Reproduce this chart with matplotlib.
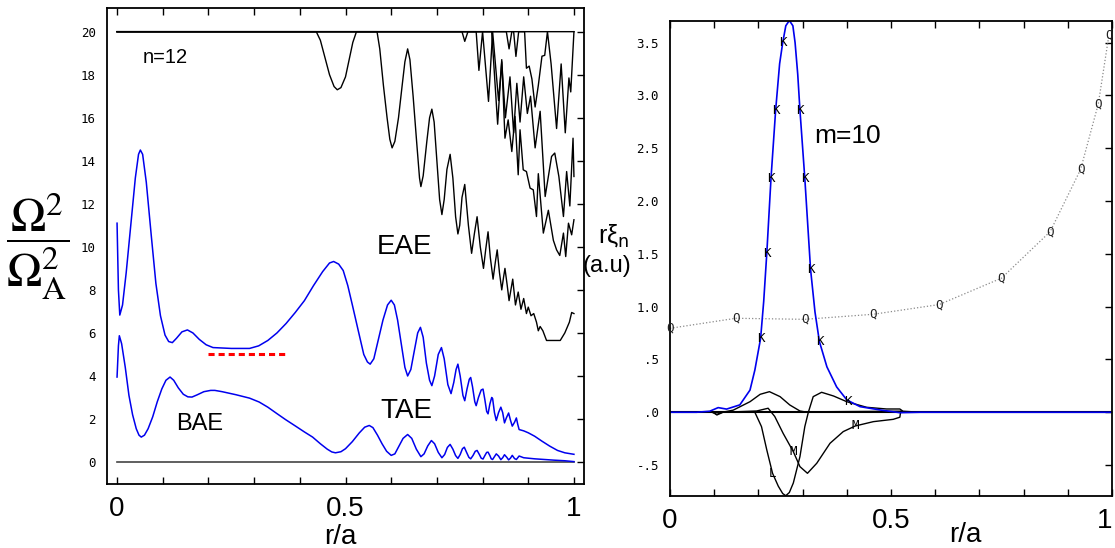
import numpy as np
import matplotlib
matplotlib.use("Agg")
import matplotlib.pyplot as plt

SANS = "Liberation Sans"
MONO = "DejaVu Sans Mono"

# ---- left panel: continuum (Omega^2 / Omega_A^2 versus r/a), n=12 ----
blue_upper_x = [0.0, 0.003, 0.006, 0.012, 0.02, 0.03, 0.04, 0.047, 0.051, 0.056, 0.064, 0.075,
                0.085, 0.095, 0.105, 0.113, 0.121, 0.13, 0.142, 0.154, 0.166, 0.18, 0.195, 0.21,
                0.25, 0.29, 0.31, 0.33, 0.35, 0.37, 0.39, 0.41, 0.43, 0.45, 0.465, 0.474, 0.485,
                0.495, 0.505, 0.515, 0.528, 0.54, 0.548, 0.554, 0.562, 0.572, 0.582, 0.592, 0.6,
                0.607, 0.614, 0.622, 0.63, 0.636, 0.643, 0.65, 0.658, 0.664, 0.67, 0.677, 0.684,
                0.689, 0.695, 0.703, 0.71, 0.716, 0.724, 0.731, 0.737, 0.742, 0.746, 0.751, 0.757,
                0.761, 0.766, 0.771, 0.774, 0.778, 0.783, 0.786, 0.791, 0.797, 0.801, 0.805, 0.809,
                0.812, 0.816, 0.82, 0.822, 0.826, 0.83, 0.835, 0.84, 0.844, 0.848, 0.852, 0.857,
                0.861, 0.865, 0.87, 0.874, 0.877, 0.88, 0.89, 0.9, 0.914, 0.93, 0.947, 0.964, 0.98, 1.0]
blue_upper_y = [11.1, 8.0, 6.83, 7.3, 8.8, 11.0, 13.2, 14.3, 14.5, 14.3, 13.0, 10.5,
                8.3, 6.8, 5.9, 5.6, 5.55, 5.75, 6.05, 6.14, 6.0, 5.7, 5.45, 5.32,
                5.28, 5.28, 5.4, 5.65, 6.0, 6.44, 6.95, 7.5, 8.2, 8.85, 9.25, 9.32, 9.2,
                8.9, 8.2, 7.3, 6.1, 5.0, 4.65, 4.55, 4.8, 5.7, 6.6, 7.3, 7.52,
                7.3, 6.6, 5.5, 4.4, 4.0, 4.3, 5.1, 6.0, 6.26, 5.8, 4.6, 3.8,
                3.55, 4.0, 5.0, 5.32, 4.8, 3.6, 3.18, 3.7, 4.3, 4.55, 4.0, 3.1,
                2.85, 3.4, 3.85, 3.93, 3.5, 2.8, 2.62, 3.0, 3.35, 3.39, 2.9, 2.35,
                2.24, 2.7, 3.0, 2.95, 2.3, 1.93, 2.3, 2.55, 2.3, 1.82, 2.05, 2.28,
                1.95, 1.67, 1.85, 2.05, 1.75, 1.51, 1.45, 1.36, 1.2, 0.97, 0.74, 0.54, 0.43, 0.36]

blue_lower_x = [0.0, 0.003, 0.005, 0.01, 0.018, 0.026, 0.034, 0.042, 0.048, 0.053, 0.06, 0.068,
                0.078, 0.088, 0.098, 0.107, 0.116, 0.124, 0.134, 0.145, 0.155, 0.164, 0.175, 0.19,
                0.205, 0.214, 0.23, 0.26, 0.29, 0.311, 0.33, 0.35, 0.369, 0.39, 0.41, 0.428, 0.445,
                0.46, 0.47, 0.478, 0.49, 0.5, 0.515, 0.53, 0.542, 0.552, 0.56, 0.57, 0.58, 0.59,
                0.6, 0.608, 0.616, 0.626, 0.636, 0.645, 0.655, 0.665, 0.672, 0.68, 0.688, 0.695,
                0.703, 0.711, 0.717, 0.723, 0.729, 0.735, 0.741, 0.746, 0.751, 0.756, 0.76, 0.765,
                0.77, 0.774, 0.779, 0.784, 0.788, 0.793, 0.797, 0.801, 0.805, 0.809, 0.812, 0.816,
                0.819, 0.822, 0.826, 0.83, 0.835, 0.84, 0.844, 0.848, 0.853, 0.857, 0.861, 0.865,
                0.87, 0.874, 0.88, 0.89, 0.914, 0.955, 0.98, 1.0]
blue_lower_y = [3.95, 5.4, 5.87, 5.5, 4.4, 3.1, 2.2, 1.55, 1.25, 1.16, 1.25, 1.55,
                2.1, 2.8, 3.4, 3.8, 3.95, 3.8, 3.45, 3.15, 3.03, 3.02, 3.12, 3.27,
                3.33, 3.33, 3.27, 3.13, 2.97, 2.79, 2.55, 2.25, 1.97, 1.68, 1.4, 1.16, 0.85,
                0.6, 0.47, 0.43, 0.48, 0.62, 0.95, 1.35, 1.62, 1.7, 1.6, 1.25, 0.85, 0.5,
                0.31, 0.38, 0.7, 1.1, 1.28, 1.1, 0.6, 0.25, 0.38, 0.75, 1.0, 0.85,
                0.45, 0.2, 0.35, 0.68, 0.82, 0.6, 0.3, 0.17, 0.35, 0.62, 0.69, 0.45,
                0.22, 0.15, 0.3, 0.5, 0.54, 0.35, 0.18, 0.14, 0.3, 0.45, 0.46, 0.3,
                0.15, 0.12, 0.25, 0.38, 0.28, 0.11, 0.2, 0.34, 0.22, 0.1, 0.18, 0.31,
                0.16, 0.12, 0.28, 0.2, 0.15, 0.09, 0.06, 0.02]

# black branches, values above 20 are held at 20
blk_a_x = [0.0, 0.436, 0.445, 0.455, 0.465, 0.475, 0.482, 0.49, 0.5, 0.508, 0.516, 0.524, 1.0]
blk_a_y = [20, 20, 19.6, 18.8, 18.0, 17.45, 17.3, 17.4, 17.9, 18.7, 19.5, 20, 20]

blk_b_x = [0.0, 0.569, 0.575, 0.583, 0.591, 0.597, 0.602, 0.608, 0.616, 0.624, 0.63, 0.636,
           0.641, 0.648, 0.656, 0.662, 0.665, 0.67, 0.678, 0.684, 0.689, 0.694, 0.7, 0.706,
           0.711, 0.716, 0.722, 0.729, 0.735, 0.741, 0.746, 0.75, 0.755, 0.761, 0.769, 0.776,
           0.782, 0.788, 0.795, 0.802, 0.807, 0.812, 0.817, 0.823, 0.828, 0.832, 0.837, 0.842,
           0.846, 0.849, 0.854, 0.858, 0.862, 0.866, 0.872, 0.878, 0.884, 0.89, 0.896, 0.9,
           0.906, 0.912, 0.918, 0.922, 0.926, 0.932, 0.94, 0.97, 0.98, 0.99, 0.995, 1.0]
blk_b_y = [20, 20, 19.2, 17.5, 16.0, 15.0, 14.6, 14.9, 16.0, 17.5, 18.6, 19.2,
           18.7, 17.0, 14.8, 13.2, 12.8, 13.3, 14.9, 16.0, 16.4, 15.8, 14.0, 12.2,
           11.5, 12.2, 13.6, 14.3, 13.2, 11.4, 10.6, 11.0, 12.3, 12.9, 11.0, 9.7,
           10.6, 11.4, 10.0, 9.0, 9.9, 10.7, 9.5, 8.5, 9.3, 9.86, 8.8, 8.0,
           8.6, 9.0, 8.2, 7.5, 8.0, 8.5, 7.3, 7.9, 7.1, 7.6, 6.9, 7.2,
           6.8, 6.9, 6.5, 6.1, 6.3, 6.1, 5.65, 5.65, 6.0, 6.5, 6.95, 6.9]

blk_c_x = [0.0, 0.82, 0.833, 0.842, 0.849, 0.856, 0.864, 0.871, 0.878, 0.882, 0.889, 0.896,
           0.904, 0.911, 0.918, 0.922, 0.933, 0.944, 0.955, 0.962, 0.969, 0.977, 0.982,
           0.988, 0.995, 1.0]
blk_c_y = [20, 20, 15.7, 18.7, 15.05, 15.9, 14.43, 16.06, 13.35, 15.44, 13.58, 13.5,
           12.73, 12.65, 11.41, 13.4, 10.64, 11.7, 10.3, 9.86, 9.6, 10.64, 9.55,
           11.1, 10.56, 11.26]

blk_d_x = [0.0, 0.786, 0.792, 0.8, 0.813, 0.822, 0.835, 0.842, 0.85, 0.86, 0.868, 0.875, 0.882,
           0.89, 0.898, 0.905, 0.915, 0.926, 0.937, 0.951, 0.958, 0.967, 0.977, 0.984, 0.991,
           0.998, 1.0]
blk_d_y = [20, 20, 18.2, 20, 16.76, 20, 16.8, 18.6, 16.0, 17.9, 15.3, 17.6, 15.8,
           17.9, 16.2, 17.0, 14.6, 16.3, 12.34, 14.2, 14.36, 13.27, 11.41, 13.5, 11.9,
           15.05, 13.27]

blk_e_x = [0.0, 0.755, 0.761, 0.768, 0.852, 0.858, 0.864, 0.868, 0.873, 0.879, 0.892, 0.896,
           0.902, 0.908, 0.915, 0.922, 0.93, 0.936, 0.942, 0.95, 0.962, 0.972, 0.981, 0.989,
           0.993, 1.0]
blk_e_y = [20, 20, 19.55, 20, 20, 19.2, 20, 20, 18.85, 20, 20, 18.3,
           18.4, 17.8, 16.5, 17.5, 18.86, 18.9, 20, 18.5, 15.5, 18.5, 15.3, 17.85,
           17.2, 20]

gap_x = [0.198, 0.371]
gap_y = [5.0, 5.0]

# ---- right panel: radial harmonics r*xi_n, m=10 ----
k_x = [0.0, 0.06, 0.09, 0.109, 0.128, 0.158, 0.181, 0.192, 0.205, 0.212, 0.219, 0.2285, 0.239,
       0.248, 0.255, 0.262, 0.27, 0.278, 0.283, 0.289, 0.294, 0.305, 0.318, 0.328, 0.338,
       0.355, 0.377, 0.4, 0.43, 0.475, 0.52, 0.566, 1.0]
k_y = [0.0, 0.0, 0.01, 0.044, 0.03, 0.07, 0.21, 0.4, 0.70, 1.05, 1.506, 2.215, 2.86,
       3.3, 3.5, 3.66, 3.71, 3.66, 3.5, 3.2, 2.86, 2.215, 1.354, 0.95, 0.67,
       0.43, 0.24, 0.117, 0.053, 0.022, -0.004, 0.0, 0.0]

l_x = [0.0, 0.192, 0.207, 0.219, 0.232, 0.245, 0.255, 0.262, 0.27, 0.279, 0.294, 0.305, 0.313,
       0.324, 0.343, 0.37, 0.4, 0.445, 0.49, 0.52, 0.527, 0.566, 1.0]
l_y = [0.0, 0.0, -0.136, -0.357, -0.578, -0.70, -0.77, -0.79, -0.76, -0.67, -0.42, -0.136, 0.0,
       0.148, 0.189, 0.154, 0.1, 0.047, 0.031, 0.031, 0.01, 0.0, 0.0]

m_x = [0.0, 0.098, 0.106, 0.12, 0.196, 0.222, 0.237, 0.256, 0.279, 0.294, 0.311, 0.332,
       0.362, 0.392, 0.419, 0.46, 0.505, 0.52, 0.522, 0.533, 1.0]
m_y = [0.0, 0.0, -0.026, 0.0, 0.012, 0.038, -0.04, -0.2, -0.373, -0.515, -0.578, -0.483,
       -0.294, -0.183, -0.13, -0.089, -0.067, -0.047, 0.01, 0.0, 0.0]

n_x = [0.0, 0.095, 0.106, 0.118, 0.143, 0.181, 0.204, 0.225, 0.249, 0.271, 0.294, 0.305,
       0.52, 0.53, 1.0]
n_y = [0.0, 0.0, -0.02, 0.0, 0.02, 0.1, 0.17, 0.195, 0.148, 0.069, 0.012, 0.004,
       0.01, 0.0, 0.0]

q_x = [0.0, 0.149, 0.305, 0.46, 0.609, 0.75, 0.86, 0.929, 0.969, 0.993]
q_y = [0.795, 0.89, 0.88, 0.928, 1.02, 1.27, 1.71, 2.3, 2.92, 3.57]

# letter tags sitting on the harmonics
k_tag_x = [0.255, 0.239, 0.294, 0.2285, 0.305, 0.219, 0.318, 0.205, 0.338, 0.403]
k_tag_y = [3.5, 2.86, 2.86, 2.215, 2.215, 1.506, 1.354, 0.70, 0.67, 0.10]
l_tag_x, l_tag_y = [0.232], [-0.578]
m_tag_x = [0.279, 0.419]
m_tag_y = [-0.373, -0.13]

fig = plt.figure(figsize=(11.15, 5.48), dpi=100)
W, H = 1115, 548
ax1 = fig.add_axes([107 / W, 1 - 484 / H, 477 / W, 476 / H])
ax2 = fig.add_axes([670 / W, 1 - 496 / H, 442 / W, 475.3 / H])

blue = "#0000EE"
for xs, ys in [(blk_a_x, blk_a_y), (blk_b_x, blk_b_y), (blk_c_x, blk_c_y),
               (blk_d_x, blk_d_y), (blk_e_x, blk_e_y)]:
    ax1.plot(xs, ys, color="black", lw=1.0)
ax1.plot([0, 1], [0, 0], color="#444444", lw=1.2)
ax1.plot(blue_upper_x, blue_upper_y, color=blue, lw=1.1)
ax1.plot(blue_lower_x, blue_lower_y, color=blue, lw=1.1)
ax1.plot(gap_x, gap_y, color="red", lw=2.2, dashes=(2.0, 1.3))

ax1.text(0.105, 18.8, "n=12", fontsize=14.5, family=SANS, ha="center", va="center")
ax1.text(0.63, 10.0, "EAE", fontsize=20, family=SANS, ha="center", va="center")
ax1.text(0.634, 2.38, "TAE", fontsize=20, family=SANS, ha="center", va="center")
ax1.text(0.18, 1.76, "BAE", fontsize=17, family=SANS, ha="center", va="center")

ax1.set_xlim(-0.022, 1.022)
ax1.set_ylim(-1.02, 21.1)
ax1.set_yticks(range(0, 21, 2))

ax2.plot([0, 1], [0, 0], color="black", lw=1.5)
ax2.plot(q_x, q_y, color="#8a8a8a", lw=0.9, ls=":")
ax2.plot(n_x, n_y, color="black", lw=1.0)
ax2.plot(m_x, m_y, color="black", lw=1.0)
ax2.plot(l_x, l_y, color="black", lw=1.0)
ax2.plot(k_x, k_y, color=blue, lw=1.2)
tag = dict(fontsize=9, family=MONO, ha="center", va="center")
for tx, ty in zip(q_x, q_y):
    ax2.text(tx, ty, "Q", color="#222222", **tag)
for tx, ty in zip(k_tag_x, k_tag_y):
    ax2.text(tx, ty, "K", **tag)
for tx, ty in zip(l_tag_x, l_tag_y):
    ax2.text(tx, ty, "L", **tag)
for tx, ty in zip(m_tag_x, m_tag_y):
    ax2.text(tx, ty, "M", **tag)
ax2.text(0.402, 2.62, "m=10", fontsize=19, family=SANS, ha="center", va="center")

ax2.set_xlim(0, 1)
ax2.set_ylim(-0.793, 3.708)
ax2.set_yticks([-0.5, 0, 0.5, 1.0, 1.5, 2.0, 2.5, 3.0, 3.5])
ax2.set_yticklabels(["-.5", ".0", ".5", "1.0", "1.5", "2.0", "2.5", "3.0", "3.5"])

xt = np.round(np.arange(0, 1.01, 0.1), 1)
xl = ["0", "", "", "", "", "0.5", "", "", "", "", "1"]
for ax in (ax1, ax2):
    ax.set_xticks(xt)
    ax.set_xticklabels(xl)
    ax.tick_params(axis="x", direction="in", top=True, bottom=True, length=5,
                   width=1, labelsize=20, pad=9)
    ax.tick_params(axis="y", direction="in", left=False, right=True, labelleft=True,
                   length=5, width=1, labelsize=9, pad=8)
    for lab in ax.get_xticklabels():
        lab.set_family(SANS)
    for lab in ax.get_yticklabels():
        lab.set_family(MONO)
    for sp in ax.spines.values():
        sp.set_linewidth(1.3)
# keep the last label of the right panel inside the canvas
ax2.get_xticklabels()[-1].set_horizontalalignment("right")

fig.text(340 / W, 1 - 537 / H, "r/a", fontsize=20, family=SANS, ha="center", va="center")
fig.text(965 / W, 1 - 535 / H, "r/a", fontsize=20, family=SANS, ha="center", va="center")

fig.text(38 / W, 1 - 246 / H, r"$\dfrac{\Omega^2}{\Omega_\mathrm{A}^2}$", fontsize=34,
         math_fontfamily="stix", ha="center", va="center")
fig.text(598 / W, 1 - 236 / H, r"rξ$_\mathrm{n}$", fontsize=18, family=SANS,
         math_fontfamily="dejavusans", ha="left", va="center")
fig.text(583 / W, 1 - 266 / H, "(a.u)", fontsize=17, family=SANS, ha="left", va="center")

fig.savefig("out.png", dpi=100)
